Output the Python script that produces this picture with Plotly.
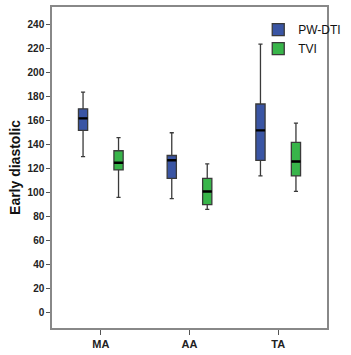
import plotly.graph_objects as go

categories = ["MA", "AA", "TA"]
series_names = ["PW-DTI", "TVI"]

pw_lower = [130, 95, 114]
pw_q1 = [152, 112, 127]
pw_median = [162, 127, 152]
pw_q3 = [170, 131, 174]
pw_upper = [184, 150, 224]

tvi_lower = [96, 86, 101]
tvi_q1 = [119, 90, 114]
tvi_median = [125, 101, 126]
tvi_q3 = [135, 112, 142]
tvi_upper = [146, 124, 158]

y_ticks = list(range(0, 241, 20))

colors = ["#3A55A4", "#38B54A"]
FONT = "Arial, Liberation Sans, sans-serif"

fig = go.Figure()
series = [
    (series_names[0], pw_lower, pw_q1, pw_median, pw_q3, pw_upper, colors[0]),
    (series_names[1], tvi_lower, tvi_q1, tvi_median, tvi_q3, tvi_upper, colors[1]),
]
for name, lo, q1, med, q3, up, col in series:
    fig.add_trace(go.Box(
        name=name, offsetgroup=name, alignmentgroup="g",
        x=categories,
        lowerfence=lo, q1=q1, median=med, q3=q3, upperfence=up,
        fillcolor=col,
        line=dict(color="#3a3a3a", width=1.3),
        whiskerwidth=0.45,
        boxpoints=False,
    ))
# thick black median bars drawn as degenerate boxes at the medians
for name, lo, q1, med, q3, up, col in series:
    fig.add_trace(go.Box(
        name=name + " median", offsetgroup=name, alignmentgroup="g",
        x=categories,
        lowerfence=med, q1=med, median=med, q3=med, upperfence=med,
        fillcolor="rgba(0,0,0,0)",
        line=dict(color="#000000", width=2.4),
        whiskerwidth=0,
        boxpoints=False, showlegend=False, hoverinfo="skip",
    ))

fig.update_layout(
    width=351, height=355,
    margin=dict(l=52, r=5, t=5, b=27),
    paper_bgcolor="white", plot_bgcolor="white",
    boxmode="group", boxgap=0.2, boxgroupgap=0.74,
    font=dict(family=FONT, color="#222222"),
    showlegend=True,
    legend=dict(x=0.75, y=0.975, xanchor="left", yanchor="top",
                bgcolor="rgba(0,0,0,0)", font=dict(size=12, color="#111111"),
                tracegroupgap=0, itemwidth=30),
)
fig.update_xaxes(
    type="category", range=[-0.55, 2.55],
    showline=True, linecolor="#888888", linewidth=1.5, mirror=True,
    ticks="outside", ticklen=5, tickcolor="#555555",
    tickfont=dict(size=11, weight="bold", color="#222222"),
    showgrid=False, zeroline=False,
)
fig.update_yaxes(
    range=[-13, 255], tickvals=y_ticks,
    showline=True, linecolor="#888888", linewidth=1.5, mirror=True,
    ticks="outside", ticklen=4, tickcolor="#555555",
    tickfont=dict(size=10, weight="bold", color="#222222"),
    showgrid=False, zeroline=False,
    title=dict(text="Early diastolic", font=dict(size=14, weight="bold", color="#111111"), standoff=4),
)

fig.write_html("out.html", config={"displayModeBar": False},
               post_script="document.body.style.margin='0px';")
